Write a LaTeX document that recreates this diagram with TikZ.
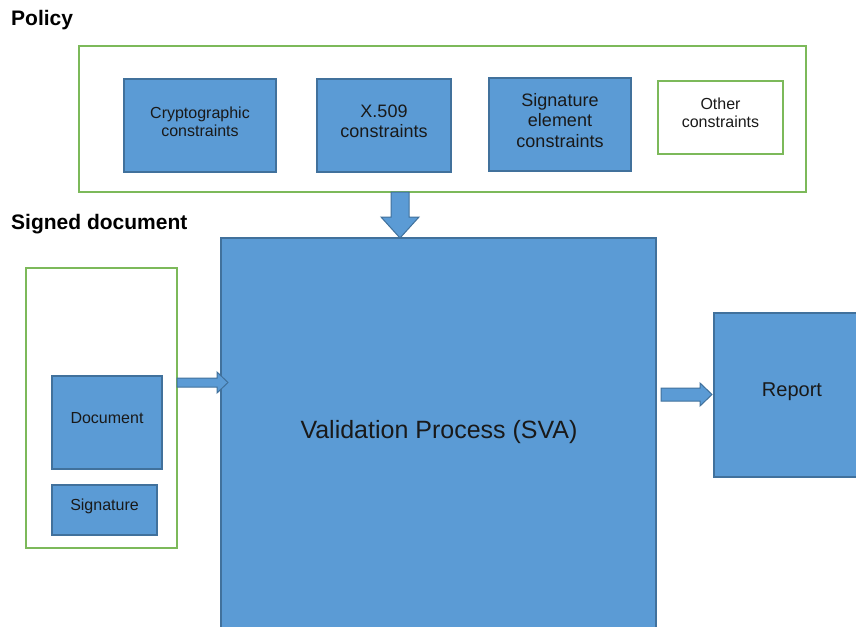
\documentclass[tikz,border=0pt]{standalone}
\usepackage{fontspec}
\setmainfont{Liberation Sans}
\usetikzlibrary{calc}
\definecolor{bfill}{HTML}{5B9BD5}
\definecolor{bdraw}{HTML}{41719C}
\definecolor{gdraw}{HTML}{7CB95A}
\begin{document}
\begin{tikzpicture}[x=1pt,y=-1pt,
  bluebox/.style={draw=bdraw, fill=bfill, line width=1.2pt, inner sep=0pt, outer sep=0pt, anchor=north west},
  greenbox/.style={draw=gdraw, fill=white, line width=1.5pt, inner sep=0pt, outer sep=0pt, anchor=north west},
  lbl/.style={align=center, text=black!90, inner sep=0pt, font=\fontsize{16}{18}\selectfont},
  lblbig/.style={align=center, text=black!90, inner sep=0pt, font=\fontsize{18}{20.5}\selectfont},
  blockarrow/.style={draw=bdraw, fill=bfill, line width=1pt, line join=miter},
  heading/.style={font=\fontsize{21}{24}\selectfont\bfseries, anchor=base west, inner sep=0pt}]
\clip (0,0) rectangle (856,626);
\useasboundingbox (0,0) rectangle (856,626);

% titles
\node[heading] (tpolicy) at (11,26) {Policy};
\node[heading] (tsigned) at (11,229) {Signed document};

% policy group
\node[greenbox, minimum width=727pt, minimum height=146pt] (policy) at (79,46) {};
\node[bluebox, minimum width=152pt, minimum height=93pt] (crypto) at (124,79) {};
\node[bluebox, minimum width=134pt, minimum height=93pt] (x509) at (317,79) {};
\node[bluebox, minimum width=142pt, minimum height=93pt] (sigel) at (489,78) {};
\node[greenbox, minimum width=125pt, minimum height=73pt] (other) at (658,81) {};

\node[lbl] (lcrypto) at ($(crypto.center)+(0,-3.5)$) {Cryptographic\\constraints};
\node[lblbig] (lx509) at ($(x509.center)+(0,-4)$) {X.509\\constraints};
\node[lblbig] (lsigel) at ($(sigel.center)+(0,-4)$) {Signature\\element\\constraints};
\node[lbl] (lother) at ($(other.center)+(0,-5)$) {Other\\constraints};

% signed document group
\node[greenbox, minimum width=151pt, minimum height=280pt] (leftbox) at (26,268) {};
\node[bluebox, minimum width=110pt, minimum height=93pt] (doc) at (52,376) {};
\node[bluebox, minimum width=105pt, minimum height=50pt] (sig) at (52,485) {};
\node[lbl] (ldoc) at ($(doc.center)+(0,-4.5)$) {Document};
\node[lbl] (lsig) at ($(sig.center)+(0,-3.5)$) {Signature};

% validation process
\node[bluebox, minimum width=435pt, minimum height=400pt] (sva) at (221,238) {};
\node[align=center, text=black!90, inner sep=0pt, font=\fontsize{25}{28}\selectfont] (lsva) at (439,432) {Validation Process (SVA)};

% report
\node[bluebox, minimum width=150pt, minimum height=164pt] (report) at (714,313) {};
\node[align=center, text=black!90, inner sep=0pt, font=\fontsize{20}{23}\selectfont] (lreport) at (792,392) {Report};

% down arrow: policy -> sva
\coordinate (d0) at ($(policy.south)+(-42.5,0)$);
\coordinate (d1) at ($(sva.north)+(-38.5,0)$);
\draw[blockarrow] ($(d0)+(-9,0)$) -- ($(d1)+(-9,-21)$) -- ($(d1)+(-19,-21)$) -- (d1)
  -- ($(d1)+(19,-21)$) -- ($(d1)+(9,-21)$) -- ($(d0)+(9,0)$) -- cycle;

% right arrow: signed document -> sva
\coordinate (l0) at ($(leftbox.north east)+(0,114.5)$);
\coordinate (l1) at ($(l0 -| sva.west)+(7,0)$);
\draw[blockarrow] ($(l0)+(0,-4.5)$) -- ($(l1)+(-11,-4.5)$) -- ($(l1)+(-11,-10.5)$) -- (l1)
  -- ($(l1)+(-11,10.5)$) -- ($(l1)+(-11,4.5)$) -- ($(l0)+(0,4.5)$) -- cycle;

% right arrow: sva -> report
\coordinate (r0) at ($(sva.north east)+(5,156.5)$);
\coordinate (r1) at ($(r0 -| report.west)+(-2,0)$);
\draw[blockarrow] ($(r0)+(0,-6.5)$) -- ($(r1)+(-12,-6.5)$) -- ($(r1)+(-12,-11.5)$) -- (r1)
  -- ($(r1)+(-12,11.5)$) -- ($(r1)+(-12,6.5)$) -- ($(r0)+(0,6.5)$) -- cycle;
\end{tikzpicture}
\end{document}
